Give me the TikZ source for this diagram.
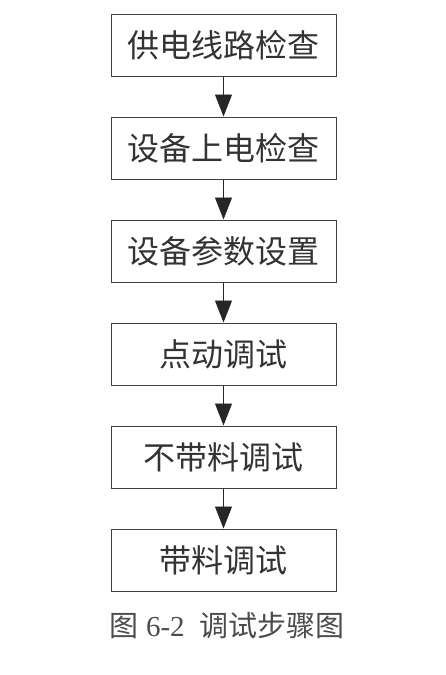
\documentclass[tikz,border=0pt]{standalone}
\usepackage{fontspec}
\setmainfont{Liberation Serif}
\newfontfamily\cjk{Noto Sans CJK SC}
\usetikzlibrary{arrows.meta,positioning}
\tikzset{>=Stealth}

\begin{document}
\begin{tikzpicture}[
    stepbox/.style={draw=black!75, line width=1pt, minimum width=225pt, minimum height=62pt,
      inner sep=0pt, text=black!80, font=\cjk\fontsize{32}{36}\selectfont},
    flow/.style={-{Triangle[length=22pt,width=17pt]}, line width=0.9pt, draw=black!85},
    node distance=40pt
  ]
  \useasboundingbox (0,0) rectangle (445pt,-675pt);
  \node[stepbox] (s1) at (223.5pt,-45pt) {供电线路检查};
  \node[stepbox, below=of s1] (s2) {设备上电检查};
  \node[stepbox, below=of s2] (s3) {设备参数设置};
  \node[stepbox, below=of s3] (s4) {点动调试};
  \node[stepbox, below=of s4] (s5) {不带料调试};
  \node[stepbox, below=of s5] (s6) {带料调试};
  \foreach \a/\b in {s1/s2,s2/s3,s3/s4,s4/s5,s5/s6}
    \draw[flow] (\a) -- (\b);
  % caption
  \node[text=black!70, font=\fontsize{29}{33}\selectfont] (cap) at (227pt,-625pt)
    {{\cjk 图} 6-2\enspace{\cjk 调试步骤图}};
\end{tikzpicture}
\end{document}
